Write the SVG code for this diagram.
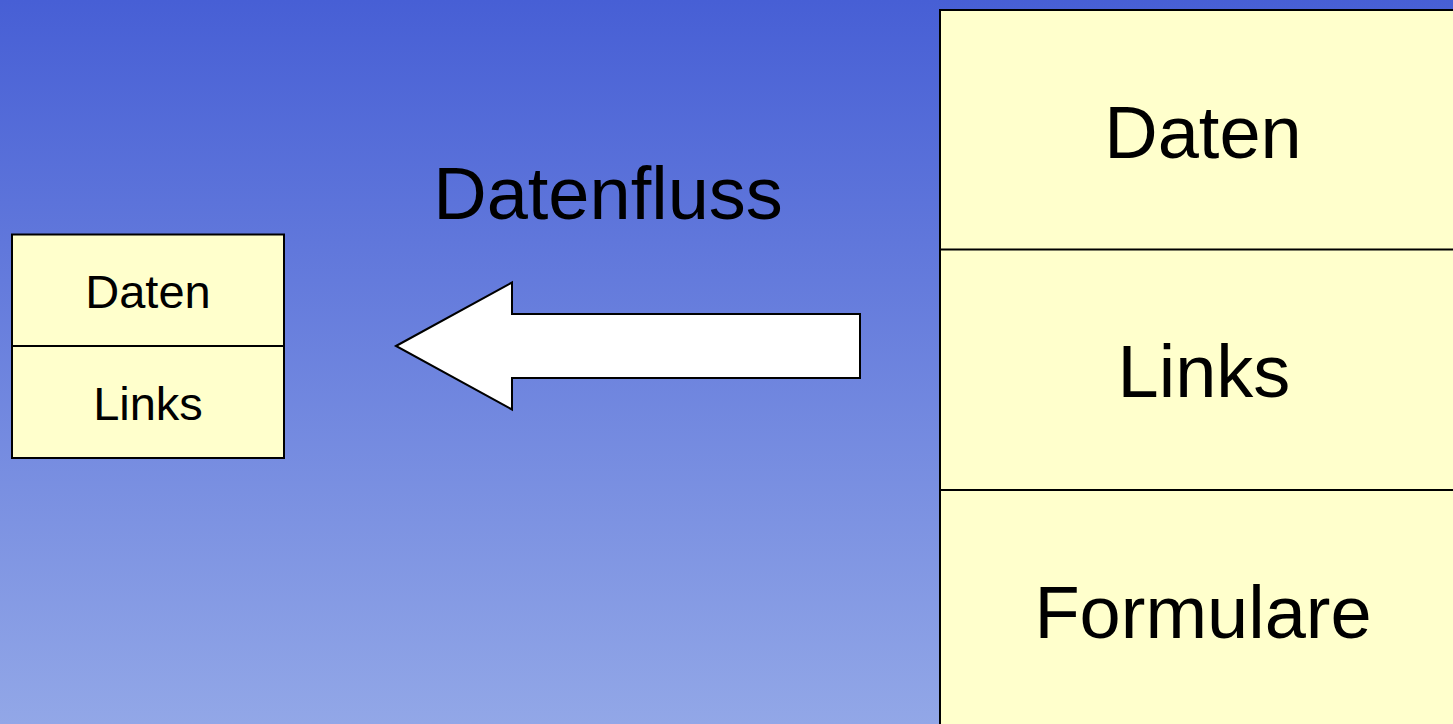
<svg xmlns="http://www.w3.org/2000/svg" width="1453" height="724" viewBox="0 0 1453 724">
  <defs>
    <linearGradient id="bg" x1="0" y1="0" x2="0" y2="1">
      <stop offset="0" stop-color="#475fd5"/>
      <stop offset="1" stop-color="#92a7e7"/>
    </linearGradient>
    <style>
      .box { fill: #ffffcc; stroke: #000; stroke-width: 2; }
      .div { stroke: #000; stroke-width: 2; fill: none; }
      .t { font-family: "Liberation Sans", Arial, sans-serif; fill: #000; text-anchor: middle; }
      .big { font-size: 74px; }
      .small { font-size: 47px; }
    </style>
  </defs>
  <rect x="0" y="0" width="1453" height="724" fill="url(#bg)"/>

  <g id="left-box">
    <rect class="box" x="12" y="234.5" width="272" height="223.5"/>
    <line class="div" x1="12" y1="346" x2="284" y2="346"/>
    <text class="t small" x="148" y="308">Daten</text>
    <text class="t small" x="148" y="420">Links</text>
  </g>

  <g id="right-box">
    <rect class="box" x="940" y="10" width="540" height="730"/>
    <line class="div" x1="940" y1="249.5" x2="1453" y2="249.5"/>
    <line class="div" x1="940" y1="490" x2="1453" y2="490"/>
    <text class="t big" x="1203" y="158">Daten</text>
    <text class="t big" x="1204" y="397">Links</text>
    <text class="t big" x="1203" y="638">Formulare</text>
  </g>

  <g id="connectors">
    <polygon points="396,346 512,282.5 512,314 860,314 860,378 512,378 512,409.5" fill="#fff" stroke="#000" stroke-width="2" stroke-linejoin="miter"/>
    <text class="t big" x="608" y="219">Datenfluss</text>
  </g>
</svg>
